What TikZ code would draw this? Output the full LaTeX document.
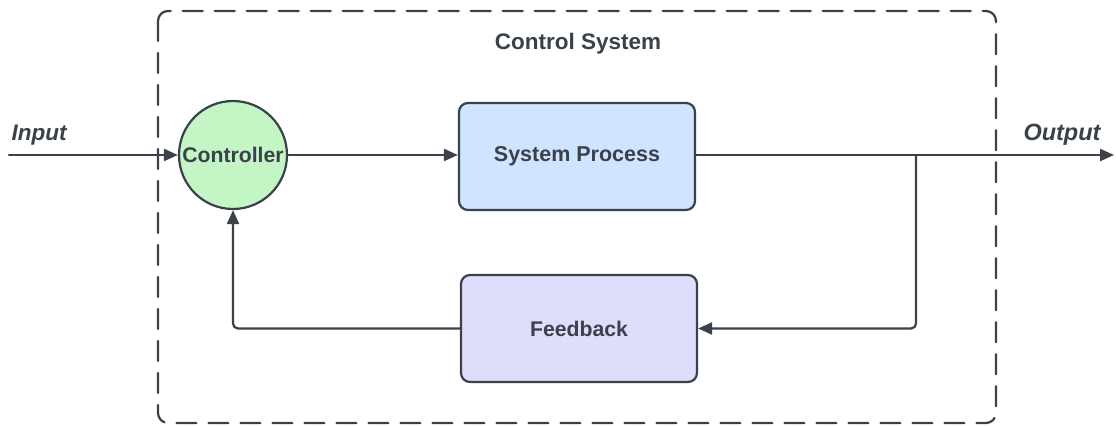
\documentclass[tikz,border=0pt]{standalone}
\usepackage{fontspec}
\setmainfont{Liberation Sans}
\usetikzlibrary{arrows.meta,positioning}
\definecolor{ink}{HTML}{3A414A}
\definecolor{ctrlgreen}{HTML}{C3F5C5}
\definecolor{procblue}{HTML}{CFE4FF}
\definecolor{fblilac}{HTML}{DEDEFC}
\begin{document}
\begin{tikzpicture}[x=1pt, y=-1pt, line join=round, line cap=round, >={Triangle[length=14pt,width=12pt]},
	every node/.style={text=ink, font=\bfseries\fontsize{21.2}{25}\selectfont},
	blk/.style={draw=ink, line width=2.2pt, rounded corners=9pt, minimum width=236pt, minimum height=107pt, inner sep=0pt},
	wire/.style={draw=ink, line width=2.2pt, rounded corners=5pt}]
	\useasboundingbox (0,0) rectangle (1116,426);
	% dashed frame round the system
	\draw[ink, line width=2.2pt, dash pattern=on 20pt off 12pt, rounded corners=10pt] (158,11) rectangle (996,423);
	\node[font=\bfseries\fontsize{22.5}{26}\selectfont] (title) at (578,44) {Control System};
	% blocks
	\node[circle, draw=ink, line width=2.2pt, fill=ctrlgreen, minimum size=108pt, inner sep=0pt] (ctrl) at (233,155) {Controller};
	\node[blk, fill=procblue, font=\bfseries\fontsize{21.5}{25}\selectfont] (sys) at (577,156.5) {System Process};
	\node[blk, fill=fblilac] (fb) at (579,328.5) {Feedback};
	\coordinate (in) at (9,155);
	\coordinate (out) at (1114,155);
	\coordinate (tap) at (916,155);
	\node[font=\bfseries\itshape\fontsize{22.5}{26}\selectfont] (inlbl) at (39,135) {Input};
	\node[font=\bfseries\itshape\fontsize{23.5}{27}\selectfont] (outlbl) at (1062,135) {Output};
	% signal path
	\draw[wire,->] (in) -- (ctrl.west);
	\draw[wire,->] (ctrl.east) -- (ctrl.east -| sys.west);
	\draw[wire,->] (ctrl.east -| sys.east) -- (out);
	\draw[wire,->] (tap) |- (fb.east);
	\draw[wire,->] (fb.west) -| (ctrl.south);
\end{tikzpicture}
\end{document}
